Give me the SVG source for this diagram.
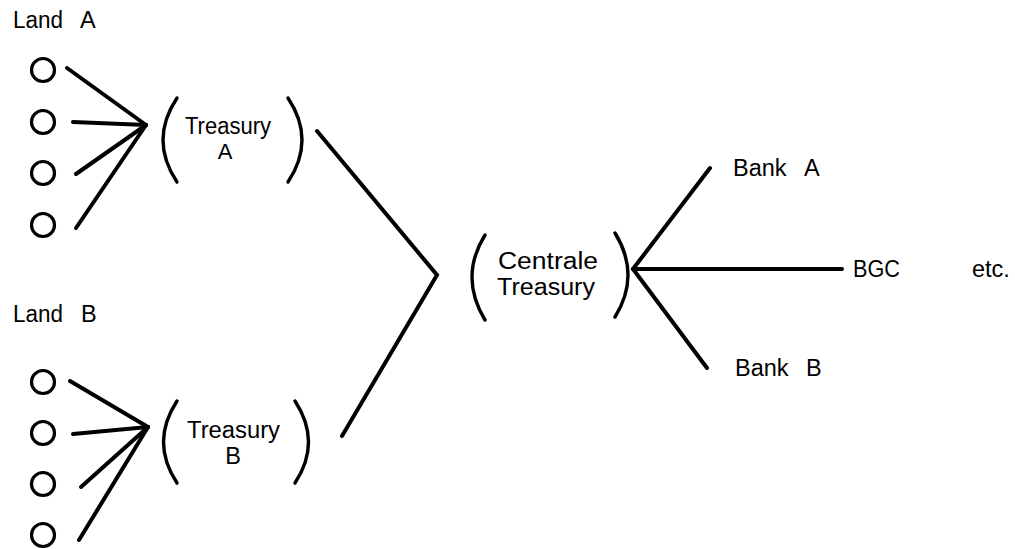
<svg xmlns="http://www.w3.org/2000/svg" width="1015" height="549" viewBox="0 0 1015 549">
  <style>
    .lbl { font-family: "Liberation Sans", Arial, sans-serif; font-size: 23.5px; fill: #000; }
    .mid { text-anchor: middle; }
    .dot { fill: none; stroke: #000; stroke-width: 3.2; }
    .paren { fill: none; stroke: #000; stroke-width: 3.4; stroke-linecap: round; }
    .link { stroke: #000; stroke-width: 4; stroke-linecap: round; fill: none; }
  </style>
  <rect width="1015" height="549" fill="#fff"/>

  <!-- Land A and its four members -->
  <g id="land-a">
    <text class="lbl" x="13" y="28" textLength="50" lengthAdjust="spacingAndGlyphs">Land</text>
    <text class="lbl" x="80" y="28">A</text>
    <circle class="dot" cx="43" cy="70" r="11.5"/>
    <circle class="dot" cx="43" cy="122" r="11.5"/>
    <circle class="dot" cx="43" cy="173" r="11.5"/>
    <circle class="dot" cx="43" cy="225" r="11.5"/>
  </g>

  <!-- Land B and its four members -->
  <g id="land-b">
    <text class="lbl" x="13" y="322" textLength="50" lengthAdjust="spacingAndGlyphs">Land</text>
    <text class="lbl" x="81" y="322">B</text>
    <circle class="dot" cx="43" cy="382" r="11.5"/>
    <circle class="dot" cx="43" cy="433" r="11.5"/>
    <circle class="dot" cx="43" cy="484" r="11.5"/>
    <circle class="dot" cx="43" cy="535" r="11.5"/>
  </g>

  <g id="treasury-a">
    <path class="paren" d="M177 98 Q149 140 177 182"/>
    <path class="paren" d="M288 98 Q316 140 288 182"/>
    <text class="lbl" x="185" y="133.5" textLength="86" lengthAdjust="spacingAndGlyphs">Treasury</text>
    <text class="lbl mid" x="225" y="159" style="font-size:22px">A</text>
  </g>

  <g id="treasury-b">
    <path class="paren" d="M177 401 Q150 442 177 483"/>
    <path class="paren" d="M295 401 Q322 442 295 483"/>
    <text class="lbl" x="187" y="438" textLength="93" lengthAdjust="spacingAndGlyphs">Treasury</text>
    <text class="lbl mid" x="233" y="464">B</text>
  </g>

  <g id="centrale-treasury">
    <path class="paren" d="M485 235 Q459 277 485 320"/>
    <path class="paren" d="M615 233 Q641 275 615 317"/>
    <text class="lbl" x="498" y="269" textLength="100" lengthAdjust="spacingAndGlyphs">Centrale</text>
    <text class="lbl" x="497" y="295" textLength="98" lengthAdjust="spacingAndGlyphs">Treasury</text>
  </g>

  <g id="bank-a">
    <text class="lbl" x="733" y="176">Bank</text>
    <text class="lbl" x="804" y="176">A</text>
  </g>

  <g id="bgc">
    <text class="lbl" x="853" y="277" textLength="47" lengthAdjust="spacingAndGlyphs">BGC</text>
  </g>

  <g id="etc">
    <text class="lbl" x="972" y="277">etc.</text>
  </g>

  <g id="bank-b">
    <text class="lbl" x="735" y="376">Bank</text>
    <text class="lbl" x="806" y="376">B</text>
  </g>

  <!-- connectors -->
  <g id="connectors">
    <!-- Land A fan -->
    <path class="link" d="M67 68 L146 125"/>
    <path class="link" d="M73 122 L146 125"/>
    <path class="link" d="M76 174 L146 125"/>
    <path class="link" d="M76 228 L146 125"/>
    <!-- Land B fan -->
    <path class="link" d="M70 381 L148 427"/>
    <path class="link" d="M73 434 L148 427"/>
    <path class="link" d="M81 487 L148 427"/>
    <path class="link" d="M79 540 L148 427"/>
    <!-- treasuries to the centre -->
    <path class="link" d="M317 131 L437 275 L342 436"/>
    <!-- centre to the banks -->
    <path class="link" d="M710 168 L633 269 L707 368"/>
    <path class="link" d="M633 269 L842 269" stroke-width="3.2"/>
  </g>
</svg>
